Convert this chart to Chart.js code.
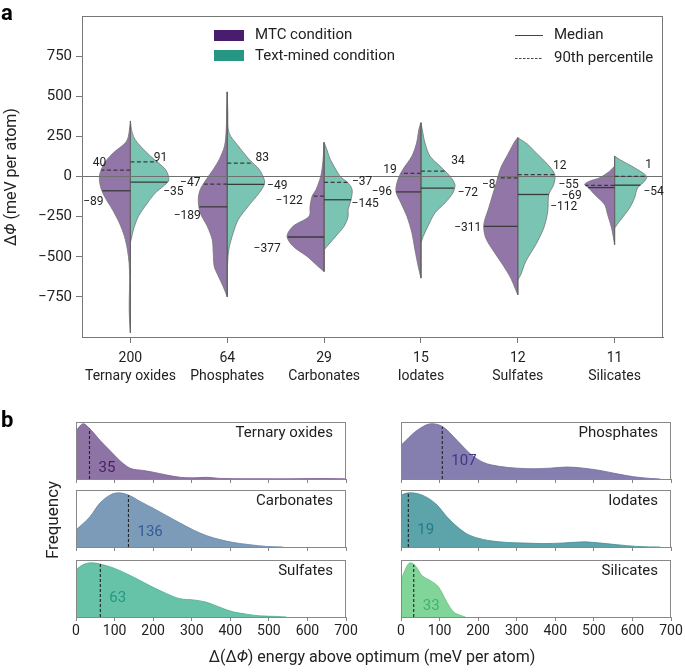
<!DOCTYPE html>
<html><head><meta charset="utf-8">
<script src="https://cdn.jsdelivr.net/npm/chart.js@4"></script>
<style>
html,body{margin:0;padding:0;background:#fff;}
#wrap{position:relative;width:685px;height:672px;overflow:hidden;}
canvas{position:absolute;}
</style></head><body>
<div id="wrap"><canvas id="main" width="685" height="672" style="left:0;top:0"></canvas></div>
<script>
// ---------------- DATA ----------------
const categories = ['Ternary oxides','Phosphates','Carbonates','Iodates','Sulfates','Silicates'];
const counts = [200, 64, 29, 15, 12, 11];
const mtcMedian  = [-89, -189, -377, -96, -311, -69];
const mtcP90     = [40, -47, -122, 19, -8, -55];
const textMedian = [-35, -49, -145, -72, -112, -54];
const textP90    = [91, 83, -37, 34, 12, 1];
const yTicks = [-750, -500, -250, 0, 250, 500, 750];

// violin half-width profiles: [ΔΦ value, density width]
const mtcViolins = [
  [[330,0],[306,0.7],[250,2],[210,5],[148,17],[85,26],[44,29],[2,31],[-60,30],[-123,26],[-206,18],[-290,11],[-373,6],[-456,3],[-540,1.3],[-623,0.8],[-700,0.9],[-748,1.1],[-831,1.2],[-915,0.7],[-975,0]],
  [[527,0],[400,0.6],[294,1],[190,2.7],[106,8],[44,14],[-19,21],[-81,27],[-144,29],[-227,27],[-310,20],[-394,15],[-477,14],[-560,13],[-620,9],[-687,4],[-750,0]],
  [[212,0],[125,0.8],[85,1.3],[2,3.3],[-81,8],[-123,12],[-185,14],[-248,15],[-310,31],[-372,37],[-435,31],[-498,17],[-560,6],[-592,0]],
  [[335,0],[294,2],[210,4.3],[127,9],[44,18],[-19,23],[-92,25],[-165,20],[-248,14],[-352,9],[-456,6],[-560,2.7],[-633,0]],
  [[242,0],[221,2.7],[137,10],[54,17],[-29,21],[-112,25],[-196,29],[-300,34],[-383,32],[-467,24],[-550,15],[-633,7],[-696,2.7],[-737,0]],
  [[65,0],[33,5],[-8,15],[-29,25],[-50,30],[-71,26],[-112,20],[-175,10],[-237,7],[-321,3],[-425,0]]
];
const textViolins = [
  [[346,0],[294,1],[250,3],[210,7],[170,13],[127,20],[85,28],[44,35],[2,38],[-29,38],[-60,33],[-102,25],[-165,17],[-248,8],[-331,3],[-394,0.7],[-410,0]],
  [[527,0],[400,0.6],[273,1.7],[190,11],[106,22],[44,32],[-19,37],[-50,37],[-102,32],[-185,21],[-269,11],[-350,6],[-456,1.5],[-581,0]],
  [[212,0],[169,2.7],[125,5],[85,8],[2,16],[-40,24],[-81,28],[-144,27],[-206,24],[-250,24],[-310,20],[-370,12],[-420,5],[-456,0]],
  [[335,0],[294,1.3],[210,4],[127,9],[65,19],[2,29],[-50,34],[-102,32],[-165,24],[-227,14],[-310,7],[-373,2.3],[-415,0]],
  [[242,0],[200,10],[137,20],[75,30],[12,37],[-50,36],[-112,31],[-217,30],[-321,26],[-425,18],[-529,8],[-612,3],[-644,0]],
  [[127,0],[106,5],[54,20],[2,32],[-29,30],[-71,23],[-133,20],[-196,15],[-279,5],[-321,0]]
];

// panel b: Δ(ΔΦ) KDE curves [energy, relative frequency]
const kdeTernary    = [[0,0.85],[19,0.97],[36,0.88],[62,0.68],[88,0.5],[114,0.32],[140,0.19],[174,0.15],[200,0.12],[235,0.07],[270,0.03],[304,0.02],[338,0.03],[373,0.01],[450,0.005],[550,0.004],[640,0.008],[700,0.003]];
const kdePhosphates = [[0,0.59],[41,0.85],[80,0.97],[110,0.91],[145,0.68],[180,0.44],[214,0.29],[257,0.22],[300,0.19],[344,0.18],[387,0.19],[430,0.21],[473,0.19],[516,0.15],[560,0.09],[603,0.04],[646,0.01],[672,0]];
const kdeCarbonates = [[0,0.30],[36,0.53],[62,0.77],[88,0.91],[110,0.95],[140,0.90],[166,0.80],[200,0.68],[235,0.55],[270,0.42],[304,0.30],[338,0.20],[373,0.13],[407,0.08],[451,0.04],[494,0.01],[537,0]];
const kdeIodates    = [[0,0.91],[20,0.95],[41,0.94],[67,0.87],[93,0.74],[119,0.53],[145,0.36],[171,0.23],[197,0.16],[231,0.11],[275,0.08],[318,0.07],[370,0.06],[421,0.07],[473,0.09],[516,0.07],[560,0.04],[611,0.01],[672,0]];
const kdeSulfates   = [[0,0.83],[19,0.92],[41,0.95],[62,0.93],[97,0.86],[131,0.76],[166,0.64],[200,0.52],[235,0.41],[270,0.32],[304,0.30],[338,0.26],[373,0.17],[407,0.09],[442,0.05],[476,0.02],[520,0.01],[546,0]];
const kdeSilicates  = [[0,0.65],[16,0.90],[24,0.95],[37,0.90],[54,0.73],[76,0.64],[98,0.52],[119,0.26],[136,0.09],[154,0.03],[167,0]];
const kdeCurves = [kdeTernary, kdePhosphates, kdeCarbonates, kdeIodates, kdeSulfates, kdeSilicates];
const deltaMedians = [35, 107, 136, 19, 63, 33];
const bTicks = [0,100,200,300,400,500,600,700];

// ---------------- STYLE ----------------
const FONT = 'Roboto';
Chart.defaults.font.family = FONT;
Chart.defaults.color = '#222';
Chart.defaults.animation = false;
const PURPLE_FILL = 'rgb(145,118,167)', TEAL_FILL = 'rgb(121,196,179)';
const EDGE = '#757575';
const WIDTH_PER_UNIT = 96.8; // density width -> category units
const kdeFill  = ['rgb(142,115,165)','rgb(133,127,175)','rgb(124,155,185)','rgb(92,163,170)','rgb(102,195,168)','rgb(130,213,152)'];
const kdeEdge  = ['rgb(120,92,145)','rgb(110,104,155)','rgb(100,132,165)','rgb(70,140,148)','rgb(80,172,146)','rgb(105,190,128)'];
const kdeText  = ['rgb(75,28,105)','rgb(62,55,140)','rgb(52,92,150)','rgb(38,122,138)','rgb(36,152,132)','rgb(58,180,108)'];
const mtcP90Off = [[-31,-6.6],[-37,-1.5],[-35,4.5],[-31,-3],[-29,7],[-46,0]];
const mtcMedOff = [[-37,11],[-40,9],[-57,12],[-39,0],[-50,2],[-43,8]];
const txtP90Off = [[30,-3.5],[35,-5],[38,0],[37,-10],[42,-9],[34,-11]];
const txtMedOff = [[43,10],[50,2],[41,4],[47,4.5],[46,13],[39,7]];
const medLabelLift = [0.19,0.32,0.26,0.30,0.33,0.18];

function interp(profile, v){
  for (let k=0;k<profile.length-1;k++){
    const [v0,w0]=profile[k],[v1,w1]=profile[k+1];
    if ((v<=v0&&v>=v1)||(v>=v0&&v<=v1)){ const t=(v1===v0)?0:(v-v0)/(v1-v0); return w0+t*(w1-w0); }
  }
  return 0;
}
const fmt = v => v<0 ? '\u2212'+Math.abs(v) : String(v);

function mixedText(ctx, parts, x, y, size, align){
  const fonts = parts.map(p => (p[1]?'italic ':'') + size + 'px ' + FONT);
  const widths = parts.map((p,i)=>{ ctx.font=fonts[i]; return ctx.measureText(p[0]).width; });
  const total = widths.reduce((a,b)=>a+b,0);
  let cx = align==='center' ? x-total/2 : x;
  ctx.textAlign='left'; ctx.textBaseline='middle';
  parts.forEach((p,i)=>{ ctx.font=fonts[i]; ctx.fillText(p[0],cx,y); cx+=widths[i]; });
}

// ---------------- PANEL A ----------------
const datasets = [];
categories.forEach((c,i)=>{
  const mp = mtcViolins[i], tp = textViolins[i];
  datasets.push({data: mp.map(([v,w])=>({x:i-w/WIDTH_PER_UNIT,y:v})), fill:'shape', backgroundColor:PURPLE_FILL, borderColor:EDGE, borderWidth:0.8, pointRadius:0, tension:0.3, order:10});
  datasets.push({data: tp.map(([v,w])=>({x:i+w/WIDTH_PER_UNIT,y:v})), fill:'shape', backgroundColor:TEAL_FILL, borderColor:EDGE, borderWidth:0.8, pointRadius:0, tension:0.3, order:10});
  const top = Math.max(mp[0][0], tp[0][0]), bot = Math.min(mp[mp.length-1][0], tp[tp.length-1][0]);
  datasets.push({data:[{x:i,y:top},{x:i,y:bot}], borderColor:'#666', borderWidth:1, pointRadius:0, fill:false, order:6});
  const lines = [[mtcMedian[i],mp,-1,false],[mtcP90[i],mp,-1,true],[textMedian[i],tp,1,false],[textP90[i],tp,1,true]];
  lines.forEach(([v,p,s,dash])=>{
    datasets.push({data:[{x:i,y:v},{x:i+s*interp(p,v)/WIDTH_PER_UNIT,y:v}], borderColor:'#3a3a3a', borderWidth:1.3, borderDash: dash?[4,2.5]:[], pointRadius:0, fill:false, order:1});
  });
});
datasets.push({data:[{x:-0.5,y:0},{x:5.5,y:0}], borderColor:'#707070', borderWidth:1, pointRadius:0, fill:false, order:4});

const panelAPlugin = {
  id:'panelA',
  afterDraw(chart){
    const ctx = chart.ctx, a = chart.chartArea, xs = chart.scales.x, ys = chart.scales.y;
    ctx.save();
    ctx.strokeStyle='#777'; ctx.lineWidth=1;
    ctx.strokeRect(a.left+0.5, a.top+0.5, a.right-a.left-1, a.bottom-a.top);
    // value labels
    ctx.font = '12px '+FONT; ctx.fillStyle='#222'; ctx.textAlign='center'; ctx.textBaseline='middle';
    categories.forEach((c,i)=>{
      const cx = xs.getPixelForValue(i);
      [[mtcP90[i],mtcP90Off[i]],[mtcMedian[i],mtcMedOff[i]],[textP90[i],txtP90Off[i]],[textMedian[i],txtMedOff[i]]].forEach(([v,o])=>{
        ctx.fillText(fmt(v), cx+o[0], ys.getPixelForValue(v)+o[1]);
      });
    });
    // legend
    ctx.fillStyle='#4a1c6e'; ctx.fillRect(214,30,30,11);
    ctx.fillStyle='#259783'; ctx.fillRect(214,50,30,11);
    ctx.fillStyle='#222'; ctx.font='15px '+FONT; ctx.textAlign='left'; ctx.textBaseline='middle';
    ctx.fillText('MTC condition',255,35.5);
    ctx.fillText('Text-mined condition',255,56);
    ctx.fillText('Median',554,35);
    ctx.fillText('90th percentile',554,58);
    ctx.strokeStyle='#444'; ctx.lineWidth=1;
    ctx.beginPath(); ctx.moveTo(515,35.5); ctx.lineTo(543,35.5); ctx.stroke();
    ctx.setLineDash([2.5,1.5]); ctx.beginPath(); ctx.moveTo(515,58.5); ctx.lineTo(543,58.5); ctx.stroke(); ctx.setLineDash([]);
    // panel letters
    ctx.font='bold 22px '+FONT; ctx.fillStyle='#000'; ctx.textBaseline='alphabetic';
    ctx.fillText('a',1,20); ctx.fillText('b',1,427);
    // axis titles
    ctx.fillStyle='#222';
    ctx.save(); ctx.translate(12,177); ctx.rotate(-Math.PI/2);
    mixedText(ctx,[['\u0394',false],['\u03A6',true],[' (meV per atom)',false]],0,0,16,'center'); ctx.restore();
    ctx.save(); ctx.translate(54,520); ctx.rotate(-Math.PI/2);
    mixedText(ctx,[['Frequency',false]],0,0,17,'center'); ctx.restore();
    mixedText(ctx,[['\u0394(\u0394',false],['\u03A6',true],[') energy above optimum (meV per atom)',false]],372,658,16,'center');
    ctx.restore();
  }
};

new Chart(document.getElementById('main'), {
  type:'line',
  data:{datasets},
  options:{
    responsive:false, animation:false,
    layout:{padding:{left:22,right:22,top:16,bottom:285}},
    plugins:{legend:{display:false}, tooltip:{enabled:false}},
    scales:{
      x:{type:'linear', min:-0.5, max:5.5,
        afterBuildTicks: s => { s.ticks = categories.map((c,i)=>({value:i})); },
        afterFit: s => { s.height = 50; },
        ticks:{callback: v => [String(counts[v]), categories[v]], font:{size:14, lineHeight:1.3}, color:'#222', padding:6, maxRotation:0, autoSkip:false},
        grid:{drawOnChartArea:false, tickLength:6, color:'#777'}, border:{color:'#777'}},
      y:{type:'linear', min:-1000, max:1000,
        afterBuildTicks: s => { s.ticks = yTicks.map(v=>({value:v})); },
        afterFit: s => { s.width = 60; },
        ticks:{callback: v => fmt(v), font:{size:15}, color:'#222', padding:4},
        grid:{drawOnChartArea:false, tickLength:6, color:'#777'}, border:{color:'#777'}}
    }
  },
  plugins:[panelAPlugin]
});

// ---------------- PANEL B ----------------
const colLeft = [76, 401], rowTop = [422, 490, 560], AREA_W = 270, AREA_H = 57;
kdeCurves.forEach((curve,k)=>{
  const col = k%2, row = Math.floor(k/2);
  const cv = document.createElement('canvas');
  cv.width = AREA_W+32; cv.height = AREA_H+2+24;
  cv.style.left = (colLeft[col]-16)+'px'; cv.style.top = (rowTop[row]-2)+'px';
  document.getElementById('wrap').appendChild(cv);
  const med = deltaMedians[k];
  const subPlugin = {
    id:'sub'+k,
    afterDraw(chart){
      const ctx=chart.ctx, a=chart.chartArea, xs=chart.scales.x, ys=chart.scales.y;
      ctx.save();
      ctx.strokeStyle='#888'; ctx.lineWidth=1;
      ctx.strokeRect(a.left+0.5, a.top+0.5, a.right-a.left-1, a.bottom-a.top);
      ctx.fillStyle='#222'; ctx.font='15px '+FONT; ctx.textAlign='right'; ctx.textBaseline='middle';
      ctx.fillText(categories[k], a.right-13, a.top+11);
      ctx.fillStyle=kdeText[k]; ctx.textAlign='left'; ctx.font='15px '+FONT;
      ctx.fillText(String(med), xs.getPixelForValue(med)+9, ys.getPixelForValue(medLabelLift[k]));
      ctx.restore();
    }
  };
  new Chart(cv, {
    type:'line',
    data:{datasets:[
      {data:[{x:med,y:0},{x:med,y:interp(curve,med)}], borderColor:'#222', borderWidth:1.1, borderDash:[3,2], pointRadius:0, fill:false, order:1},
      {data:curve.map(([x,y])=>({x,y})), fill:'origin', backgroundColor:kdeFill[k], borderColor:kdeEdge[k], borderWidth:0.8, pointRadius:0, cubicInterpolationMode:'monotone', order:5}
    ]},
    options:{
      responsive:false, animation:false,
      layout:{padding:{left:16,right:16,top:2,bottom:0}},
      plugins:{legend:{display:false}, tooltip:{enabled:false}},
      scales:{
        x:{type:'linear', min:0, max:700,
          afterBuildTicks: s => { s.ticks = bTicks.map(v=>({value:v})); },
          afterFit: s => { s.height = 24; },
          ticks:{font:{size:14}, color: row===2 ? '#222' : 'rgba(0,0,0,0)', padding:2, maxRotation:0, autoSkip:false},
          grid:{drawOnChartArea:false, tickLength:4, color:'#888'}, border:{color:'#888'}},
        y:{display:false, min:0, max:1}
      }
    },
    plugins:[subPlugin]
  });
});
</script>
</body></html>
